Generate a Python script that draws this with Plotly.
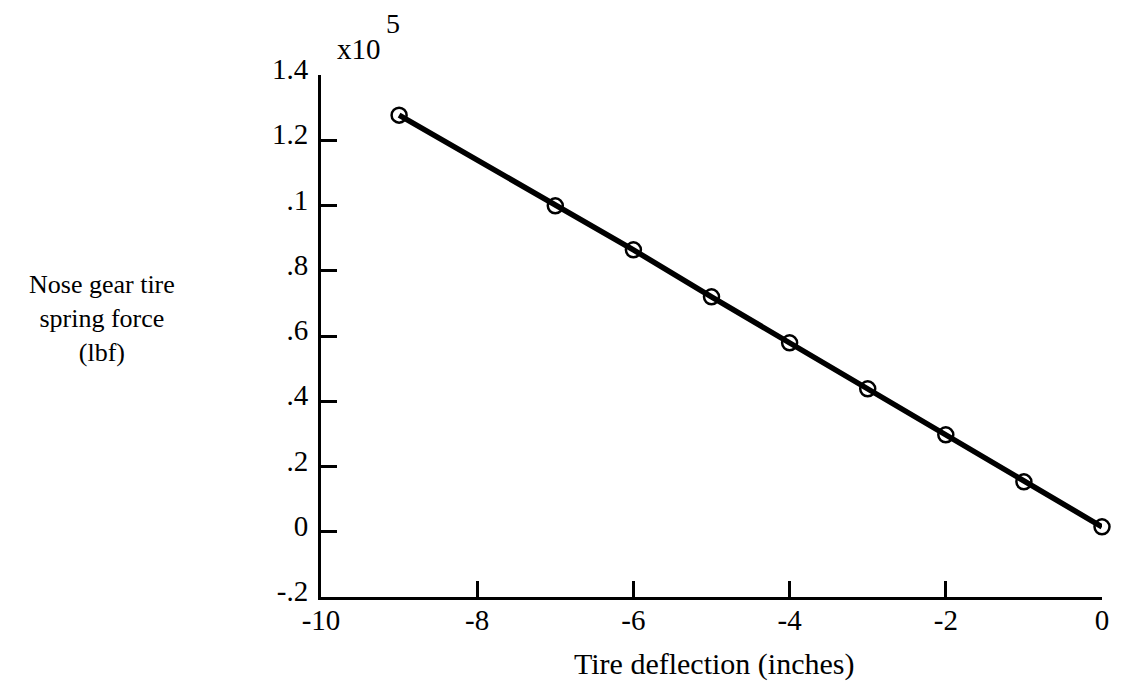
import plotly.graph_objects as go

deflection_in = [-9, -7, -6, -5, -4, -3, -2, -1, 0]
force_1e5_lbf = [1.277, 0.999, 0.864, 0.720, 0.579, 0.438, 0.297, 0.153, 0.015]

y_tickvals = [-0.2, 0, 0.2, 0.4, 0.6, 0.8, 1.0, 1.2, 1.4]
y_ticktext = ["-.2", "0", ".2", ".4", ".6", ".8", ".1", "1.2", "1.4"]
x_tickvals = [-10, -8, -6, -4, -2, 0]
x_ticktext = ["-10", "-8", "-6", "-4", "-2", "0"]

FONT = "Liberation Serif, Times New Roman, serif"

fig = go.Figure()
fig.add_trace(go.Scatter(
    x=deflection_in, y=force_1e5_lbf,
    mode="lines+markers",
    line=dict(color="black", width=5.5),
    marker=dict(symbol="circle-open", size=15, color="black", line=dict(width=2.5, color="black")),
    cliponaxis=False,
    showlegend=False,
))

fig.update_layout(
    width=1121, height=690,
    margin=dict(l=321, r=16, t=75, b=93),
    paper_bgcolor="white", plot_bgcolor="white",
    font=dict(family=FONT, size=29, color="black"),
    xaxis=dict(
        range=[-10, 0], tickvals=x_tickvals, ticktext=x_ticktext,
        ticks="inside", ticklen=16, tickwidth=3, tickcolor="black",
        showline=True, linewidth=3, linecolor="black",
        showgrid=False, zeroline=False,
        ticklabelstandoff=-5,
        tickfont=dict(family=FONT, size=29),
    ),
    yaxis=dict(
        range=[-0.2, 1.4], tickvals=y_tickvals, ticktext=y_ticktext,
        ticks="inside", ticklen=16, tickwidth=3, tickcolor="black",
        showline=True, linewidth=3, linecolor="black",
        showgrid=False, zeroline=False,
        ticklabelstandoff=4, ticklabelshift=-6,
        tickfont=dict(family=FONT, size=29),
    ),
)

annos = [
    dict(text="x10", x=359, y=49, size=29),
    dict(text="5", x=393, y=23, size=28),
    dict(text="Nose gear tire<br>spring force<br>(lbf)", x=101, y=318, size=26),
    dict(text="Tire deflection (inches)", x=716, y=664, size=30),
]
for a in annos:
    fig.add_annotation(
        text=a["text"], xref="paper", yref="paper",
        x=(a["x"] - 321) / (1121 - 321 - 16),
        y=1 - (a["y"] - 75) / (690 - 75 - 93),
        xanchor="center", yanchor="middle", showarrow=False,
        font=dict(family=FONT, size=a["size"], color="black"),
    )

fig.write_html("out.html")
